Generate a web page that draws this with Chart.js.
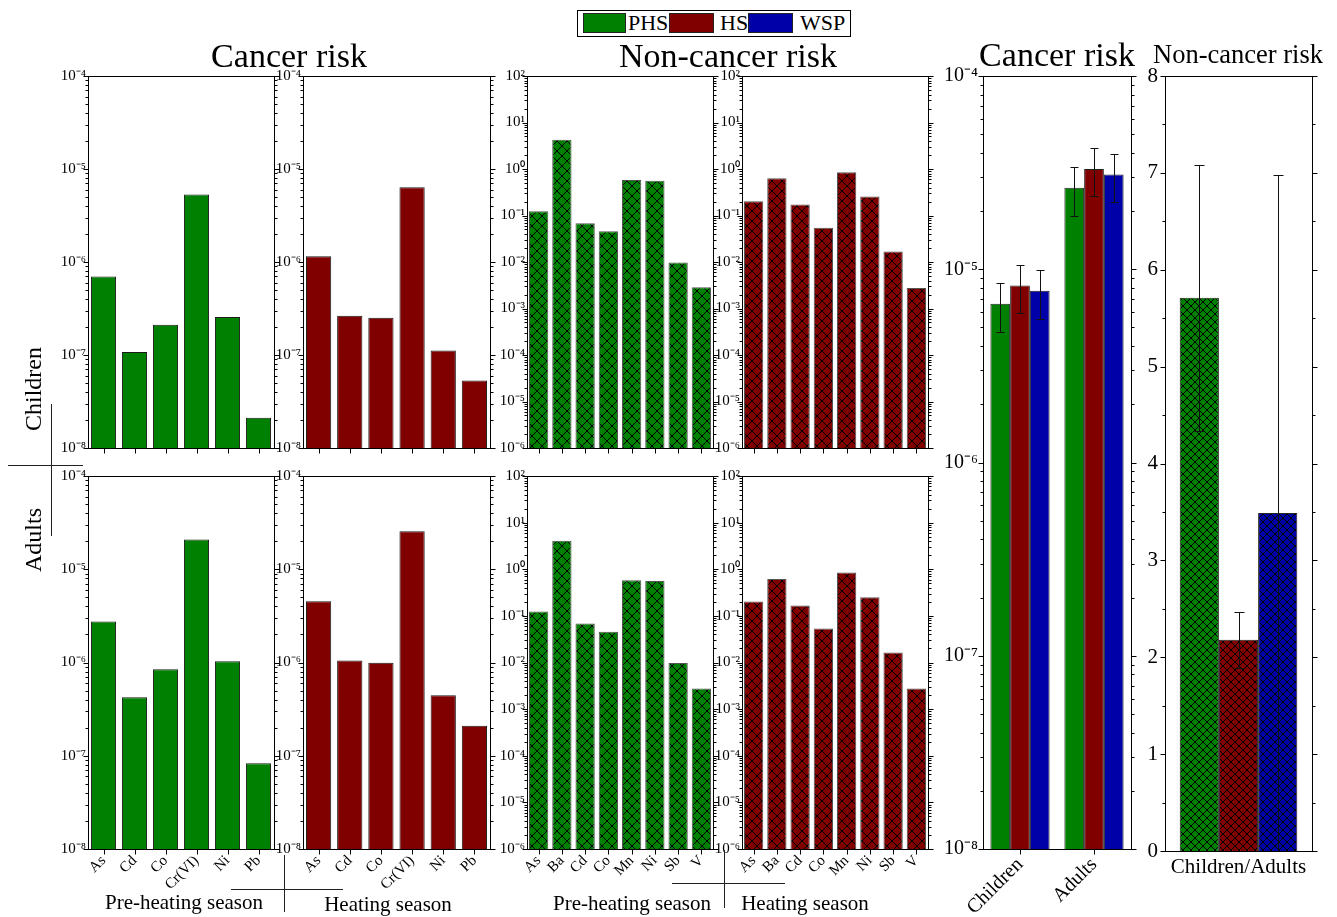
<!DOCTYPE html>
<html><head><meta charset="utf-8">
<script src="https://cdn.jsdelivr.net/npm/chart.js@4.4.1/dist/chart.umd.min.js"></script>
<style>
html,body{margin:0;padding:0;background:#fff;}
body{width:1337px;height:917px;position:relative;overflow:hidden;font-family:"Liberation Serif","Times New Roman",serif;color:#000;}
canvas{position:absolute;z-index:1;}
.t{position:absolute;white-space:nowrap;line-height:1;z-index:2;}
.ln{position:absolute;background:#222;z-index:2;}
#legend{position:absolute;left:577px;top:10px;width:272px;height:25px;border:1px solid #000;background:#fff;z-index:3;}
.sw{position:absolute;top:2px;height:18px;border:1px solid #222;}
.lt{position:absolute;top:1px;font-size:22px;line-height:1;}
</style></head><body>
<div id="legend">
  <div class="sw" style="left:5px;width:41px;background:#008000"></div>
  <div class="lt" style="left:50px">PHS</div>
  <div class="sw" style="left:91px;width:43px;background:#800000"></div>
  <div class="lt" style="left:142px">HS</div>
  <div class="sw" style="left:170px;width:43px;background:#0000a8"></div>
  <div class="lt" style="left:222px">WSP</div>
</div>
<script>
// ---------- DATA ----------
const cancerElements = ['As','Cd','Co','Cr(VI)','Ni','Pb'];
const nonCancerElements = ['As','Ba','Cd','Co','Mn','Ni','Sb','V'];

const childCancerPHS = [6.97e-7, 1.08e-7, 2.11e-7, 5.31e-6, 2.57e-7, 2.11e-8];
const childCancerHS  = [1.15e-6, 2.64e-7, 2.51e-7, 6.36e-6, 1.12e-7, 5.31e-8];
const adultCancerPHS = [2.76e-6, 4.23e-7, 8.45e-7, 2.09e-5, 1.03e-6, 8.3e-8];
const adultCancerHS  = [4.53e-6, 1.05e-6, 9.96e-7, 2.55e-5, 4.45e-7, 2.10e-7];

const childNonCancerPHS = [0.124, 4.25, 0.0685, 0.0461, 0.581, 0.562, 0.0097, 0.00286];
const childNonCancerHS  = [0.203, 0.631, 0.172, 0.0544, 0.849, 0.255, 0.0169, 0.00277];
const adultNonCancerPHS = [0.124, 4.11, 0.0685, 0.0454, 0.581, 0.562, 0.0097, 0.00277];
const adultNonCancerHS  = [0.203, 0.621, 0.166, 0.0535, 0.849, 0.251, 0.0164, 0.00277];

const ageGroups = ['Children','Adults'];
const totalCancerPHS = [6.62e-6, 2.64e-5];
const totalCancerPHSErr = [1.9e-6, 7.6e-6];
const totalCancerHS = [8.24e-6, 3.30e-5];
const totalCancerHSErr = [2.28e-6, 9.2e-6];
const totalCancerWSP = [7.73e-6, 3.09e-5];
const totalCancerWSPErr = [2.2e-6, 8.6e-6];

const ratioCategory = ['Children/Adults'];
const ratioPHS = [5.71];
const ratioPHSErr = [1.37];
const ratioHS = [2.18];
const ratioHSErr = [0.29];
const ratioWSP = [3.49];
const ratioWSPErr = [3.49];

const cancerDecades = [-8,-7,-6,-5,-4];
const nonCancerDecades = [-6,-5,-4,-3,-2,-1,0,1,2];
const ratioTicks = [0,1,2,3,4,5,6,7,8];

// ---------- STYLE ----------
Chart.defaults.font.family = '"Liberation Serif","Times New Roman",serif';
Chart.defaults.color = '#000';
const GREEN = '#008000', RED = '#800000', BLUE = '#0000a8';

function hatch(color, size){
  const c = document.createElement('canvas'); c.width = size; c.height = size;
  const g = c.getContext('2d');
  g.fillStyle = color; g.fillRect(0,0,size,size);
  g.strokeStyle = '#000'; g.lineWidth = 1;
  g.beginPath();
  g.moveTo(-1,-1); g.lineTo(size+1,size+1);
  g.moveTo(size+1,-1); g.lineTo(-1,size+1);
  g.stroke();
  return g.createPattern(c,'repeat');
}

const SUP = {'-':'\u207B','0':'\u2070','1':'\u00B9','2':'\u00B2','3':'\u00B3','4':'\u2074','5':'\u2075','6':'\u2076','7':'\u2077','8':'\u2078','9':'\u2079'};
function powLabel(v){
  const e = Math.round(Math.log10(v));
  return '10' + String(e).split('').map(ch => SUP[ch]).join('');
}
function logTickBuilder(decades){
  return scale => {
    const t = [];
    decades.forEach((d,i) => {
      t.push({value: Math.pow(10,d), major: true});
      if (i < decades.length-1) for (let k=2;k<=9;k++) t.push({value: k*Math.pow(10,d), major: false});
    });
    scale.ticks = t;
  };
}
function linTickBuilder(vals){
  return scale => {
    const t = [];
    vals.forEach((v,i) => {
      t.push({value: v, major: true});
      if (i < vals.length-1) t.push({value: (v+vals[i+1])/2, major: false});
    });
    scale.ticks = t;
  };
}

const framePlugin = {
  id: 'frame',
  afterDraw(chart, args, opts){
    const ctx = chart.ctx, a = chart.chartArea;
    ctx.save();
    ctx.strokeStyle = '#000'; ctx.lineWidth = 1;
    const L = Math.round(a.left)+0.5, R = Math.round(a.right)+0.5, T = Math.round(a.top)+0.5, B = Math.round(a.bottom)+0.5;
    ctx.strokeRect(L, T, R-L, B-T);
    ctx.beginPath();
    const y = chart.scales.y;
    y.ticks.forEach(t => {
      const p = Math.round(y.getPixelForValue(t.value))+0.5;
      const len = t.major ? 5 : 3;
      ctx.moveTo(L,p); ctx.lineTo(L-len,p);
      ctx.moveTo(R,p); ctx.lineTo(R+len,p);
    });
    if (opts.xTicks) {
      const x = chart.scales.x;
      x.ticks.forEach((t,i) => {
        const p = Math.round(x.getPixelForTick(i))+0.5;
        ctx.moveTo(p,B); ctx.lineTo(p,B+5);
      });
    }
    ctx.stroke();
    ctx.restore();
  }
};

const errorBarPlugin = {
  id: 'errorBars',
  afterDatasetsDraw(chart, args, opts){
    const ctx = chart.ctx, y = chart.scales.y;
    ctx.save();
    ctx.strokeStyle = '#111'; ctx.lineWidth = 1;
    chart.data.datasets.forEach((ds, di) => {
      if (!ds.errors) return;
      const meta = chart.getDatasetMeta(di);
      meta.data.forEach((bar, i) => {
        const v = ds.data[i], e = ds.errors[i];
        const lo = Math.max(v-e, y.min), hi = Math.min(v+e, y.max);
        const x = Math.round(bar.x)+0.5;
        const yt = Math.round(y.getPixelForValue(hi))+0.5, yb = Math.round(y.getPixelForValue(lo))+0.5;
        const cap = opts.cap || 4;
        ctx.beginPath();
        ctx.moveTo(x,yt); ctx.lineTo(x,yb);
        ctx.moveTo(x-cap,yt); ctx.lineTo(x+cap,yt);
        ctx.moveTo(x-cap,yb); ctx.lineTo(x+cap,yb);
        ctx.stroke();
      });
    });
    ctx.restore();
  }
};

function makePanel(c){
  const W = c.box[2]-c.box[0] + c.yw + c.padR;
  const H = c.box[3]-c.box[1] + c.padT + c.xh;
  const cv = document.createElement('canvas');
  cv.width = W; cv.height = H;
  cv.style.left = (c.box[0]-c.yw)+'px'; cv.style.top = (c.box[1]-c.padT)+'px';
  document.body.appendChild(cv);
  const yScale = c.log
    ? {type:'logarithmic', min: Math.pow(10,c.ticks[0]), max: Math.pow(10,c.ticks[c.ticks.length-1]), afterBuildTicks: logTickBuilder(c.ticks)}
    : {type:'linear', min: c.ticks[0], max: c.ticks[c.ticks.length-1], afterBuildTicks: linTickBuilder(c.ticks)};
  Object.assign(yScale, {
    afterFit: s => { s.width = c.yw; },
    grid: {display:false, drawTicks:false},
    border: {display:false},
    ticks: {autoSkip:false, padding:c.yPad, font:{size:c.yFont},
      callback: (v,i,t) => !t[i].major ? '' : (c.log ? powLabel(v) : String(v))}
  });
  new Chart(cv, {
    type: 'bar',
    data: {labels: c.labels, datasets: c.datasets},
    options: {
      responsive:false, animation:false, events:[],
      layout: {padding:{top:c.padT, right:c.padR, left:0, bottom:0}},
      scales: {
        x: {afterFit: s => { s.height = c.xh; }, grid:{display:false, drawTicks:false}, border:{display:false},
            ticks:{display:c.showX, autoSkip:false, minRotation:c.rot, maxRotation:c.rot, padding:c.xPad, font:{size:c.xFont}}},
        y: yScale
      },
      plugins: {legend:{display:false}, tooltip:{enabled:false}, frame:{xTicks:c.xTicks}, errorBars:{cap:c.cap||4}}
    },
    plugins: [framePlugin, errorBarPlugin]
  });
}

function simpleSet(label, data, fill, border, pct){
  return {label, data, backgroundColor: fill, borderColor: border, borderWidth: 1, barPercentage: pct, categoryPercentage: 1};
}

const TOP = [76,449], BOT = [476,849];
const smallCols = [[88,274],[303,490],[527,713],[742,928]];

const smallPanels = [
  {col:0, row:TOP, labels:cancerElements, data:childCancerPHS, fill:GREEN, log:cancerDecades, hatch:false, show:false},
  {col:1, row:TOP, labels:cancerElements, data:childCancerHS, fill:RED, log:cancerDecades, hatch:false, show:false},
  {col:2, row:TOP, labels:nonCancerElements, data:childNonCancerPHS, fill:GREEN, log:nonCancerDecades, hatch:true, show:false},
  {col:3, row:TOP, labels:nonCancerElements, data:childNonCancerHS, fill:RED, log:nonCancerDecades, hatch:true, show:false},
  {col:0, row:BOT, labels:cancerElements, data:adultCancerPHS, fill:GREEN, log:cancerDecades, hatch:false, show:true},
  {col:1, row:BOT, labels:cancerElements, data:adultCancerHS, fill:RED, log:cancerDecades, hatch:false, show:true},
  {col:2, row:BOT, labels:nonCancerElements, data:adultNonCancerPHS, fill:GREEN, log:nonCancerDecades, hatch:true, show:true},
  {col:3, row:BOT, labels:nonCancerElements, data:adultNonCancerHS, fill:RED, log:nonCancerDecades, hatch:true, show:true}
];
smallPanels.forEach(p => {
  const fill = p.hatch ? hatch(p.fill, 10) : p.fill;
  const ds = simpleSet(p.fill===GREEN?'PHS':'HS', p.data, fill, p.hatch ? '#555' : '#1a1a1a', p.hatch ? 0.83 : 0.81);
  makePanel({
    box:[smallCols[p.col][0], p.row[0], smallCols[p.col][1], p.row[1]],
    yw:45, padT:20, padR:12, xh: p.show ? 58 : 10,
    log:true, ticks:p.log, yFont:15, yPad:2,
    labels:p.labels, datasets:[ds],
    showX:p.show, rot:45, xPad:3, xFont:15, xTicks:true
  });
});

function errSet(label, data, errors, fill, pct, cat){
  return {label, data, errors, backgroundColor: fill, borderColor:'#222', borderWidth:1, barPercentage:pct, categoryPercentage:cat};
}
makePanel({
  box:[983,76,1131,849], yw:50, padT:26, padR:12, xh:70,
  log:true, ticks:cancerDecades, yFont:20, yPad:5,
  labels:ageGroups,
  datasets:[
    errSet('PHS', totalCancerPHS, totalCancerPHSErr, GREEN, 1, 0.8),
    errSet('HS', totalCancerHS, totalCancerHSErr, RED, 1, 0.8),
    errSet('WSP', totalCancerWSP, totalCancerWSPErr, BLUE, 1, 0.8)
  ],
  showX:true, rot:45, xPad:4, xFont:20, xTicks:true, cap:4
});
makePanel({
  box:[1165,76,1312,851], yw:30, padT:26, padR:12, xh:34,
  log:false, ticks:ratioTicks, yFont:21, yPad:7,
  labels:ratioCategory,
  datasets:[
    errSet('PHS', ratioPHS, ratioPHSErr, hatch(GREEN,8), 1, 0.8),
    errSet('HS', ratioHS, ratioHSErr, hatch(RED,8), 1, 0.8),
    errSet('WSP', ratioWSP, ratioWSPErr, hatch(BLUE,8), 1, 0.8)
  ],
  showX:true, rot:0, xPad:4, xFont:21, xTicks:false, cap:5
});

// ---------- TEXT ----------
function addText(str, cx, base, size){
  const d = document.createElement('div');
  d.className = 't'; d.textContent = str;
  d.style.fontSize = size+'px';
  d.style.left = cx+'px';
  d.style.top = (base - 0.8375*size)+'px';
  d.style.transform = 'translateX(-50%)';
  document.body.appendChild(d);
}
function addVText(str, cx, cy, size){
  const d = document.createElement('div');
  d.className = 't'; d.textContent = str;
  d.style.fontSize = size+'px';
  d.style.left = cx+'px'; d.style.top = cy+'px';
  d.style.transform = 'translate(-50%,-50%) rotate(-90deg)';
  document.body.appendChild(d);
}
function addLine(x, y, w, h){
  const d = document.createElement('div');
  d.className = 'ln';
  d.style.left = x+'px'; d.style.top = y+'px'; d.style.width = w+'px'; d.style.height = h+'px';
  document.body.appendChild(d);
}
addText('Cancer risk', 289, 67, 34);
addText('Non-cancer risk', 728, 67, 34);
addText('Cancer risk', 1057, 66, 34);
addText('Non-cancer risk', 1238, 63, 26.5);
addVText('Children', 33, 389, 24);
addVText('Adults', 33, 540, 24);
addText('Pre-heating season', 184, 910, 21);
addText('Heating season', 388, 912, 21);
addText('Pre-heating season', 632, 911, 21);
addText('Heating season', 805, 911, 21);
addLine(8, 465, 75, 1);
addLine(51, 404, 1, 132);
addLine(231, 889, 112, 1);
addLine(284, 855, 1, 57);
addLine(672, 883, 113, 1);
addLine(724, 850, 1, 58);
</script>
</body></html>
